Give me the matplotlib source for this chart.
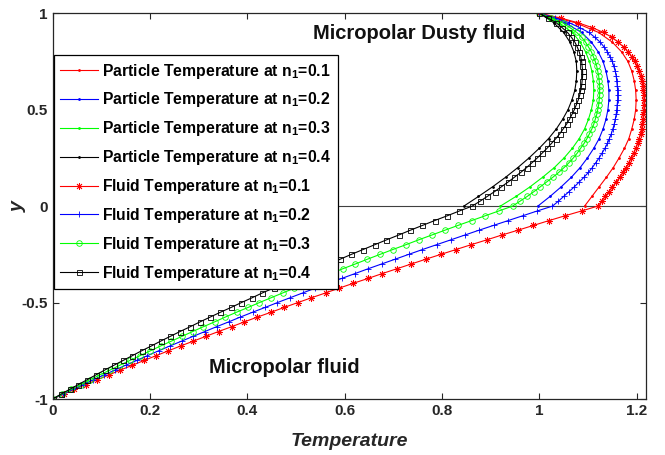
import numpy as np
import matplotlib
matplotlib.use('Agg')
import matplotlib.pyplot as plt

plt.rcParams['font.family'] = ['Liberation Sans', 'DejaVu Sans']
plt.rcParams['font.weight'] = 'bold'
plt.rcParams['mathtext.fontset'] = 'custom'
plt.rcParams['mathtext.rm'] = 'Liberation Sans:bold'
plt.rcParams['mathtext.bf'] = 'Liberation Sans:bold'

# y grid of the fluid solution (-1..1) and of the dusty region (0..1)
y_fluid = [-1.000, -0.975, -0.950, -0.925, -0.900, -0.875, -0.850, -0.825, -0.800, -0.775,
           -0.750, -0.725, -0.700, -0.675, -0.650, -0.625, -0.600, -0.575, -0.550, -0.525,
           -0.500, -0.475, -0.450, -0.425, -0.400, -0.375, -0.350, -0.325, -0.300, -0.275,
           -0.250, -0.225, -0.200, -0.175, -0.150, -0.125, -0.100, -0.075, -0.050, -0.025,
           0.000, 0.025, 0.050, 0.075, 0.100, 0.125, 0.150, 0.175, 0.200, 0.225,
           0.250, 0.275, 0.300, 0.325, 0.350, 0.375, 0.400, 0.425, 0.450, 0.475,
           0.500, 0.525, 0.550, 0.575, 0.600, 0.625, 0.650, 0.675, 0.700, 0.725,
           0.750, 0.775, 0.800, 0.825, 0.850, 0.875, 0.900, 0.925, 0.950, 0.975, 1.000]
y_part = [0.00, 0.05, 0.10, 0.15, 0.20, 0.25, 0.30, 0.35, 0.40, 0.45,
          0.50, 0.55, 0.60, 0.65, 0.70, 0.75, 0.80, 0.85, 0.90, 0.95, 1.00]

n1_vals = ['0.1', '0.2', '0.3', '0.4']

# particle temperature
part_1 = [1.093, 1.108, 1.123, 1.138, 1.152, 1.164, 1.175, 1.184, 1.190, 1.195,
          1.198, 1.199, 1.198, 1.195, 1.190, 1.182, 1.169, 1.150, 1.122, 1.075, 1.000]
part_2 = [0.997, 1.022, 1.045, 1.066, 1.084, 1.099, 1.112, 1.123, 1.131, 1.137,
          1.141, 1.143, 1.143, 1.141, 1.137, 1.131, 1.121, 1.107, 1.087, 1.053, 1.000]
part_3 = [0.920, 0.952, 0.981, 1.007, 1.031, 1.051, 1.068, 1.082, 1.093, 1.101,
          1.107, 1.111, 1.112, 1.111, 1.108, 1.103, 1.095, 1.084, 1.068, 1.041, 1.000]
part_4 = [0.845, 0.875, 0.904, 0.931, 0.956, 0.979, 1.000, 1.019, 1.035, 1.048,
          1.059, 1.067, 1.073, 1.076, 1.077, 1.076, 1.071, 1.063, 1.050, 1.030, 1.000]

# fluid temperature
fluid_1 = [0.000, 0.023, 0.045, 0.068, 0.092, 0.116, 0.139, 0.164, 0.188, 0.213,
           0.238, 0.263, 0.289, 0.315, 0.341, 0.368, 0.394, 0.421, 0.449, 0.476,
           0.504, 0.532, 0.561, 0.589, 0.618, 0.648, 0.677, 0.707, 0.737, 0.767,
           0.798, 0.829, 0.860, 0.892, 0.923, 0.956, 0.988, 1.020, 1.053, 1.087,
           1.120, 1.128, 1.135, 1.143, 1.150, 1.158, 1.165, 1.172, 1.178, 1.184,
           1.189, 1.194, 1.198, 1.202, 1.205, 1.208, 1.210, 1.212, 1.213, 1.214,
           1.215, 1.215, 1.215, 1.215, 1.214, 1.213, 1.211, 1.208, 1.205, 1.201,
           1.196, 1.190, 1.182, 1.173, 1.162, 1.149, 1.132, 1.109, 1.080, 1.044, 1.000]
fluid_2 = [0.000, 0.021, 0.042, 0.063, 0.084, 0.106, 0.128, 0.150, 0.173, 0.195,
           0.218, 0.241, 0.265, 0.289, 0.313, 0.337, 0.362, 0.386, 0.411, 0.437,
           0.462, 0.488, 0.514, 0.540, 0.567, 0.594, 0.621, 0.648, 0.676, 0.704,
           0.732, 0.760, 0.789, 0.818, 0.847, 0.876, 0.906, 0.936, 0.966, 0.996,
           1.027, 1.039, 1.050, 1.061, 1.072, 1.082, 1.092, 1.101, 1.109, 1.116,
           1.123, 1.129, 1.135, 1.140, 1.144, 1.148, 1.151, 1.154, 1.156, 1.158,
           1.159, 1.160, 1.161, 1.161, 1.161, 1.160, 1.159, 1.158, 1.156, 1.153,
           1.150, 1.145, 1.140, 1.133, 1.125, 1.114, 1.102, 1.083, 1.062, 1.033, 1.000]
fluid_3 = [0.000, 0.019, 0.038, 0.058, 0.077, 0.097, 0.118, 0.138, 0.159, 0.180,
           0.201, 0.222, 0.244, 0.266, 0.288, 0.310, 0.333, 0.355, 0.378, 0.402,
           0.425, 0.449, 0.473, 0.497, 0.522, 0.546, 0.571, 0.596, 0.622, 0.647,
           0.673, 0.699, 0.726, 0.752, 0.779, 0.806, 0.833, 0.861, 0.889, 0.917,
           0.945, 0.960, 0.975, 0.989, 1.002, 1.015, 1.028, 1.040, 1.051, 1.061,
           1.070, 1.078, 1.085, 1.092, 1.098, 1.103, 1.108, 1.112, 1.115, 1.118,
           1.120, 1.122, 1.123, 1.124, 1.124, 1.124, 1.123, 1.122, 1.120, 1.118,
           1.115, 1.111, 1.107, 1.101, 1.095, 1.087, 1.077, 1.063, 1.048, 1.025, 1.000]
fluid_4 = [0.000, 0.017, 0.035, 0.053, 0.071, 0.089, 0.107, 0.126, 0.145, 0.164,
           0.183, 0.203, 0.222, 0.242, 0.262, 0.283, 0.303, 0.324, 0.345, 0.367,
           0.388, 0.410, 0.431, 0.454, 0.476, 0.498, 0.521, 0.544, 0.567, 0.591,
           0.614, 0.638, 0.662, 0.686, 0.711, 0.735, 0.760, 0.785, 0.811, 0.836,
           0.862, 0.878, 0.893, 0.908, 0.922, 0.936, 0.949, 0.962, 0.974, 0.985,
           0.996, 1.006, 1.016, 1.025, 1.034, 1.042, 1.049, 1.056, 1.062, 1.067,
           1.072, 1.076, 1.080, 1.083, 1.085, 1.087, 1.088, 1.089, 1.089, 1.088,
           1.087, 1.085, 1.082, 1.078, 1.073, 1.066, 1.058, 1.047, 1.035, 1.018, 1.000]

particles = [part_1, part_2, part_3, part_4]
fluids = [fluid_1, fluid_2, fluid_3, fluid_4]
colors = ['r', 'b', (0, 1, 0), 'k']
fluid_markers = [(8, 2, 0), '+', 'o', 's']
fluid_msize = [5, 5, 4, 3.6]

fig = plt.figure(figsize=(6.65, 4.55), dpi=100)
ax = fig.add_axes([0.079, 0.123, 0.893, 0.848])

ax.plot([0, 1.22], [0, 0], color='#404040', lw=0.8)

for i in range(4):
    ax.plot(particles[i], y_part, color=colors[i], lw=0.8, marker='.', markersize=2,
            label='Particle Temperature at n$_1$=' + n1_vals[i])
for i in range(4):
    ax.plot(fluids[i], y_fluid, color=colors[i], lw=0.8, marker=fluid_markers[i],
            markersize=fluid_msize[i], markerfacecolor='none', markeredgewidth=0.6,
            label='Fluid Temperature at n$_1$=' + n1_vals[i])

ax.set_xlim(0, 1.22)
ax.set_ylim(-1, 1)
ax.set_xticks([0, 0.2, 0.4, 0.6, 0.8, 1, 1.2])
ax.set_xticklabels(['0', '0.2', '0.4', '0.6', '0.8', '1', '1.2'])
ax.set_yticks([-1, -0.5, 0, 0.5, 1])
ax.set_yticklabels(['-1', '-0.5', '0', '0.5', '1'])
ax.tick_params(direction='in', top=True, right=True, length=4, width=0.8,
               labelsize=11, colors='#262626')
for s in ax.spines.values():
    s.set_color('#262626')
    s.set_linewidth(0.9)

ax.set_xlabel('Temperature', fontsize=14, fontstyle='italic', fontweight='bold',
              color='#262626', labelpad=11)
ax.set_ylabel('y', fontsize=14, fontstyle='italic', fontweight='bold', color='#262626')
ax.yaxis.set_label_coords(-0.044, 0.5)

ax.text(0.535, 0.896, 'Micropolar Dusty fluid', fontsize=14.5, fontweight='bold', va='center', color='#111111')
ax.text(0.321, -0.834, 'Micropolar fluid', fontsize=14.5, fontweight='bold', va='center', color='#111111')

leg = ax.legend(loc='upper left', bbox_to_anchor=(0.002, 0.891), borderaxespad=0, fontsize=11.3,
                frameon=True, fancybox=False, edgecolor='k', framealpha=1,
                handlelength=2.4, handletextpad=0.3, labelspacing=0.63, borderpad=0.4)
leg.get_frame().set_linewidth(0.9)

fig.savefig('out.png', dpi=100)
